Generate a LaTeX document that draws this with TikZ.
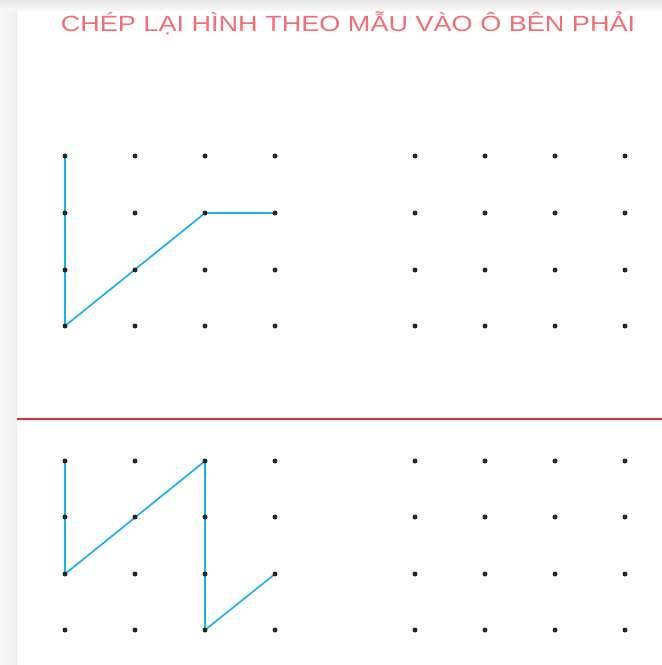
\documentclass[tikz,border=0pt]{standalone}
\usepackage{fontspec}
\usepackage{graphicx}
\setmainfont{Liberation Sans}
\definecolor{tred}{RGB}{242,110,118}
\definecolor{lblue}{RGB}{25,178,235}
\definecolor{sepred}{RGB}{228,40,50}
\begin{document}
\begin{tikzpicture}[x=1pt,y=-1pt,
  dot/.style={circle,fill=black!85,inner sep=0pt,minimum size=5pt},
  seg/.style={draw=lblue,line width=1.7pt,line join=round,line cap=round},
  sepline/.style={draw=sepred,line width=1.8pt},
  titletext/.style={text=tred,font=\fontsize{22}{24}\selectfont,inner sep=0pt}]
\useasboundingbox (0,0) rectangle (662,665);
\fill[white] (0,0) rectangle (662,665);
\shade[left color=gray!5,right color=gray!13] (0,0) rectangle (17,665);
\shade[top color=gray!18,bottom color=gray!6] (0,0) rectangle (662,10);
\node[titletext] (title) at (348,23) {\scalebox{1.23}[1]{CHÉP LẠI HÌNH THEO MẪU VÀO Ô BÊN PHẢI}};
% grid coordinates
\foreach \c [count=\i] in {65,135,205,275} {
  \foreach \r [count=\j] in {156,213,270,326} {
    \coordinate (A\i\j) at (\c,\r);
  }
  \foreach \r [count=\j] in {461,517,574,630} {
    \coordinate (C\i\j) at (\c,\r);
  }
}
\foreach \c [count=\i] in {415,485,555,625} {
  \foreach \r [count=\j] in {156,213,270,326} {
    \coordinate (B\i\j) at (\c,\r);
  }
  \foreach \r [count=\j] in {461,517,574,630} {
    \coordinate (D\i\j) at (\c,\r);
  }
}
% separator
\coordinate (sl) at (17,419);
\coordinate (sr) at (662,419);
\draw[sepline] (sl) -- (sr);
% figures
\draw[seg] (A11) -- (A14) -- (A32) -- (A42);
\draw[seg] (C11) -- (C13) -- (C31) -- (C34) -- (C43);
% dots
\foreach \g in {A,B,C,D} {
  \foreach \i in {1,2,3,4} {
    \foreach \j in {1,2,3,4} {
      \node[dot] (d\g\i\j) at (\g\i\j) {};
    }
  }
}
\end{tikzpicture}
\end{document}
